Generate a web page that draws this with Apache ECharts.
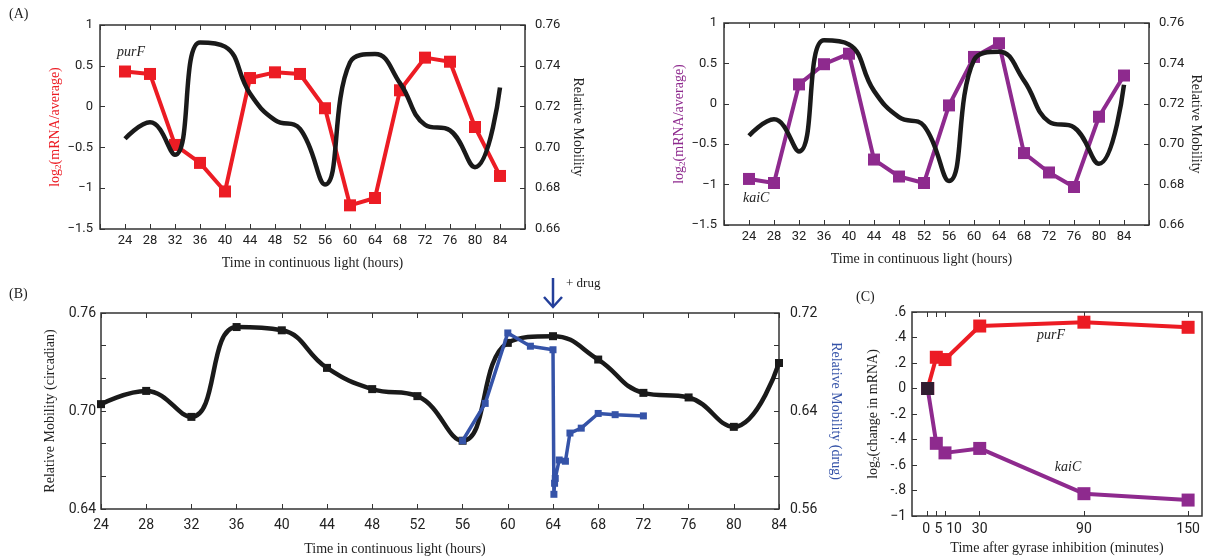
<!DOCTYPE html>
<html>
<head>
<meta charset="utf-8">
<script src="https://cdn.jsdelivr.net/npm/echarts@6.0.0/dist/echarts.min.js"></script>
<style>
html,body{margin:0;padding:0;background:#fff;}
#chart{width:1213px;height:558px;}
</style>
</head>
<body>
<div id="chart"></div>
<script>
// ---------- DATA ----------
const hours = [24,28,32,36,40,44,48,52,56,60,64,68,72,76,80,84];
const purF_A = [0.43,0.40,-0.47,-0.69,-1.04,0.35,0.42,0.40,-0.02,-1.21,-1.12,0.20,0.60,0.55,-0.25,-0.85];
const kaiC_A = [-0.93,-0.98,0.24,0.49,0.62,-0.69,-0.90,-0.98,-0.02,0.58,0.75,-0.61,-0.85,-1.03,-0.16,0.35];
const mobility = [0.7042,0.7123,0.6964,0.7514,0.7494,0.7264,0.7134,0.7091,0.6818,0.7417,0.7458,0.7315,0.7111,0.7083,0.6903,0.7294];
const drugTime = [56,58,60,62,64,64.08,64.14,64.2,64.55,65.1,65.5,66.5,68,69.5,72];
const drugMobility = [0.6157,0.6462,0.7037,0.6929,0.690,0.572,0.581,0.585,0.600,0.599,0.622,0.626,0.638,0.637,0.636];
const gyraseMinutes = [0,5,10,30,90,150];
const purF_C = [0,0.245,0.227,0.49,0.52,0.48];
const kaiC_C = [0,-0.43,-0.505,-0.47,-0.825,-0.875];

// ---------- STYLE ----------
const RED = '#ec1c24', PURPLE = '#8e2a8e', BLUE = '#3553a8', BLACK = '#1a1a1a', AXIS = '#333';
const SANS = 'Roboto, "Open Sans", sans-serif';
const SERIF = '"Liberation Serif", "DejaVu Serif", serif';

const pairs = (xs, ys) => xs.map((x, i) => [x, ys[i]]);
const minus = s => String(s).replace('-', '\u2212');

const tickIn = {show: true, inside: true, length: 5, lineStyle: {color: AXIS, width: 1}};
const noLine = {show: false, onZero: false};
const noSplit = {show: false};

function hourX(gridIndex, min, max, showMinMax, nameOpts, labelSize, margin) {
  return {
    type: 'value', gridIndex, min, max, interval: 4, position: 'bottom',
    axisLine: noLine, splitLine: noSplit, axisTick: tickIn,
    axisLabel: {
      fontFamily: SANS, fontSize: labelSize, color: '#222', margin,
      formatter: v => (showMinMax || (v !== min && v !== max)) ? String(v) : ''
    },
    ...nameOpts
  };
}
function topX(gridIndex, min, max, interval) {
  return {
    type: 'value', gridIndex, min, max, interval, position: 'top',
    axisLine: noLine, splitLine: noSplit, axisTick: tickIn, axisLabel: {show: false}
  };
}
function log2Name(text, color) {
  return {
    name: 'log{s|2}' + text, nameLocation: 'middle',
    nameTextStyle: {
      color, fontFamily: SERIF, fontSize: 14, lineHeight: 16,
      rich: {s: {fontFamily: SERIF, fontSize: 9, color, verticalAlign: 'bottom', lineHeight: 8}}
    }
  };
}
const serifName = (color, extra) => Object.assign({fontFamily: SERIF, fontSize: 14, color}, extra || {});

const option = {
  animation: false,
  backgroundColor: '#fff',
  grid: [
    {left: 100, top: 25, width: 425, height: 204, show: true, borderColor: AXIS, borderWidth: 1.5},
    {left: 724, top: 23, width: 425, height: 202, show: true, borderColor: AXIS, borderWidth: 1.5},
    {left: 101, top: 313, width: 678, height: 196, show: true, borderColor: AXIS, borderWidth: 1.5},
    {left: 912, top: 312, width: 290, height: 204, show: true, borderColor: AXIS, borderWidth: 1.5}
  ],
  xAxis: [
    hourX(0, 20, 88, false, {name: 'Time in continuous light (hours)', nameLocation: 'middle', nameGap: 27,
      nameTextStyle: serifName('#222')}, 13, 5),
    topX(0, 20, 88, 4),
    hourX(1, 20, 88, false, {name: 'Time in continuous light (hours)', nameLocation: 'middle', nameGap: 27,
      nameTextStyle: serifName('#222', {padding: [0, 30, 0, 0]})}, 13, 5),
    topX(1, 20, 88, 4),
    hourX(2, 24, 84, true, {name: 'Time in continuous light (hours)', nameLocation: 'middle', nameGap: 33,
      nameTextStyle: serifName('#222', {padding: [0, 90, 0, 0]})}, 14, 9),
    topX(2, 24, 84, 4),
    {
      type: 'value', gridIndex: 3, min: -9, max: 158, position: 'bottom',
      axisLine: noLine, splitLine: noSplit,
      axisTick: {...tickIn, customValues: gyraseMinutes},
      axisLabel: {customValues: gyraseMinutes, fontFamily: SANS, fontSize: 14, color: '#222', margin: 6,
        formatter: v => v === 10 ? '{r|10}' : (v === 5 ? '{f|5}' : (v === 0 ? '{z|0}' : String(v))),
        rich: {r: {fontFamily: SANS, fontSize: 14, color: '#222', padding: [0, 0, 0, 18]},
               f: {fontFamily: SANS, fontSize: 14, color: '#222', padding: [0, 0, 0, 4]},
               z: {fontFamily: SANS, fontSize: 14, color: '#222', padding: [0, 3, 0, 0]}}},
      name: 'Time after gyrase inhibition (minutes)', nameLocation: 'middle', nameGap: 25,
      nameTextStyle: serifName('#222')
    },
    {
      type: 'value', gridIndex: 3, min: -9, max: 158, position: 'top',
      axisLine: noLine, splitLine: noSplit,
      axisTick: {...tickIn, customValues: gyraseMinutes}, axisLabel: {show: false}
    }
  ],
  yAxis: [
    {
      type: 'value', gridIndex: 0, min: -1.5, max: 1, interval: 0.5, position: 'left',
      axisLine: noLine, splitLine: noSplit, axisTick: tickIn,
      axisLabel: {fontFamily: SANS, fontSize: 13, color: '#222', margin: 7, formatter: v => minus(v)},
      ...log2Name('(mRNA/average)', RED), nameGap: 34
    },
    {
      type: 'value', gridIndex: 0, min: 0.66, max: 0.76, interval: 0.02, position: 'right',
      axisLine: noLine, splitLine: noSplit, axisTick: tickIn,
      axisLabel: {fontFamily: SANS, fontSize: 13, color: '#222', margin: 10, formatter: v => v.toFixed(2)},
      name: 'Relative Mobility', nameLocation: 'middle', nameGap: 46, nameRotate: -90,
      nameTextStyle: serifName('#222')
    },
    {
      type: 'value', gridIndex: 1, min: -1.5, max: 1, interval: 0.5, position: 'left',
      axisLine: noLine, splitLine: noSplit, axisTick: tickIn,
      axisLabel: {fontFamily: SANS, fontSize: 13, color: '#222', margin: 7, formatter: v => minus(v)},
      ...log2Name('(mRNA/average)', PURPLE), nameGap: 36
    },
    {
      type: 'value', gridIndex: 1, min: 0.66, max: 0.76, interval: 0.02, position: 'right',
      axisLine: noLine, splitLine: noSplit, axisTick: tickIn,
      axisLabel: {fontFamily: SANS, fontSize: 13, color: '#222', margin: 10, formatter: v => v.toFixed(2)},
      name: 'Relative Mobility', nameLocation: 'middle', nameGap: 40, nameRotate: -90,
      nameTextStyle: serifName('#222')
    },
    {
      type: 'value', gridIndex: 2, min: 0.64, max: 0.76, interval: 0.02, position: 'left',
      axisLine: noLine, splitLine: noSplit, axisTick: tickIn,
      axisLabel: {fontFamily: SANS, fontSize: 14, color: '#222', margin: 5,
        formatter: v => { const k = Math.round(v * 100); return (k === 76 || k === 70 || k === 64) ? (k / 100).toFixed(2) : ''; }},
      name: 'Relative Mobility (circadian)', nameLocation: 'middle', nameGap: 34,
      nameTextStyle: serifName('#222')
    },
    {
      type: 'value', gridIndex: 2, min: 0.56, max: 0.72, interval: 0.16 / 6, position: 'right',
      axisLine: noLine, splitLine: noSplit, axisTick: tickIn,
      axisLabel: {fontFamily: SANS, fontSize: 14, color: '#222', margin: 11,
        formatter: v => { const k = Math.round(v * 100); return (k === 72 || k === 64 || k === 56) ? (k / 100).toFixed(2) : ''; }},
      name: 'Relative Mobility (drug)', nameLocation: 'middle', nameGap: 44, nameRotate: -90,
      nameTextStyle: serifName(BLUE)
    },
    {
      type: 'value', gridIndex: 3, min: -1, max: 0.6, interval: 0.2, position: 'left',
      axisLine: noLine, splitLine: noSplit, axisTick: tickIn,
      axisLabel: {fontFamily: SANS, fontSize: 14, color: '#222', margin: 6,
        formatter: v => { const k = Math.round(v * 10); if (k === 0) return '0'; if (k === -10) return '\u22121';
          return (k < 0 ? '-' : '') + '.' + Math.abs(k); }},
      ...log2Name('(change in mRNA)', '#222'), nameGap: 31
    }
  ],
  series: [
    {type: 'line', xAxisIndex: 0, yAxisIndex: 0, data: pairs(hours, purF_A), symbol: 'rect', symbolSize: 12,
      lineStyle: {color: RED, width: 4}, itemStyle: {color: RED}, z: 2},
    {type: 'line', xAxisIndex: 0, yAxisIndex: 1, data: pairs(hours, mobility), smooth: 0.45, showSymbol: false,
      lineStyle: {color: BLACK, width: 4.5}, itemStyle: {color: BLACK}, z: 3},
    {type: 'line', xAxisIndex: 2, yAxisIndex: 2, data: pairs(hours, kaiC_A), symbol: 'rect', symbolSize: 12,
      lineStyle: {color: PURPLE, width: 4}, itemStyle: {color: PURPLE}, z: 2},
    {type: 'line', xAxisIndex: 2, yAxisIndex: 3, data: pairs(hours, mobility), smooth: 0.45, showSymbol: false,
      lineStyle: {color: BLACK, width: 4.5}, itemStyle: {color: BLACK}, z: 3},
    {type: 'line', xAxisIndex: 4, yAxisIndex: 4, data: pairs(hours, mobility), smooth: 0.45, symbol: 'rect', symbolSize: 8,
      lineStyle: {color: BLACK, width: 4.5}, itemStyle: {color: BLACK}, z: 2},
    {type: 'line', xAxisIndex: 4, yAxisIndex: 5, data: pairs(drugTime, drugMobility), symbol: 'rect', symbolSize: 7,
      lineStyle: {color: BLUE, width: 3.5}, itemStyle: {color: BLUE}, z: 3},
    {type: 'line', xAxisIndex: 6, yAxisIndex: 6, data: pairs(gyraseMinutes, purF_C), symbol: 'rect', symbolSize: 13,
      lineStyle: {color: RED, width: 4}, itemStyle: {color: RED}, z: 2},
    {type: 'line', xAxisIndex: 6, yAxisIndex: 6, data: pairs(gyraseMinutes, kaiC_C), symbol: 'rect', symbolSize: 13,
      lineStyle: {color: PURPLE, width: 4}, itemStyle: {color: PURPLE}, z: 2},
    {type: 'scatter', xAxisIndex: 6, yAxisIndex: 6, data: [[gyraseMinutes[0], purF_C[0]]], symbol: 'rect', symbolSize: 13,
      itemStyle: {color: BLACK}, z: 4}
  ]
};

const chart = echarts.init(document.getElementById('chart'), null, {renderer: 'canvas'});
chart.setOption(option);

// annotations
const drugX = chart.convertToPixel({xAxisIndex: 4}, 64);
const txt = (text, x, y, extra) => ({type: 'text', x, y,
  style: Object.assign({text, fontFamily: SERIF, fontSize: 14, fill: '#222', textVerticalAlign: 'middle'}, extra || {})});
chart.setOption({
  graphic: [
    txt('(A)', 9, 14),
    txt('(B)', 9, 294),
    txt('(C)', 856, 297),
    txt('purF', 117, 52, {fontStyle: 'italic'}),
    txt('kaiC', 743, 198, {fontStyle: 'italic'}),
    txt('purF', 1051, 335, {fontStyle: 'italic', textAlign: 'center'}),
    txt('kaiC', 1068, 467, {fontStyle: 'italic', textAlign: 'center'}),
    txt('+ drug', drugX + 13, 284, {fontSize: 13}),
    {type: 'line', shape: {x1: drugX, y1: 278, x2: drugX, y2: 306}, style: {stroke: '#233f9a', lineWidth: 2.5}},
    {type: 'polyline', shape: {points: [[drugX - 9, 297], [drugX, 307], [drugX + 9, 297]]},
      style: {stroke: '#233f9a', lineWidth: 2.5, fill: null}}
  ]
});
</script>
</body>
</html>
